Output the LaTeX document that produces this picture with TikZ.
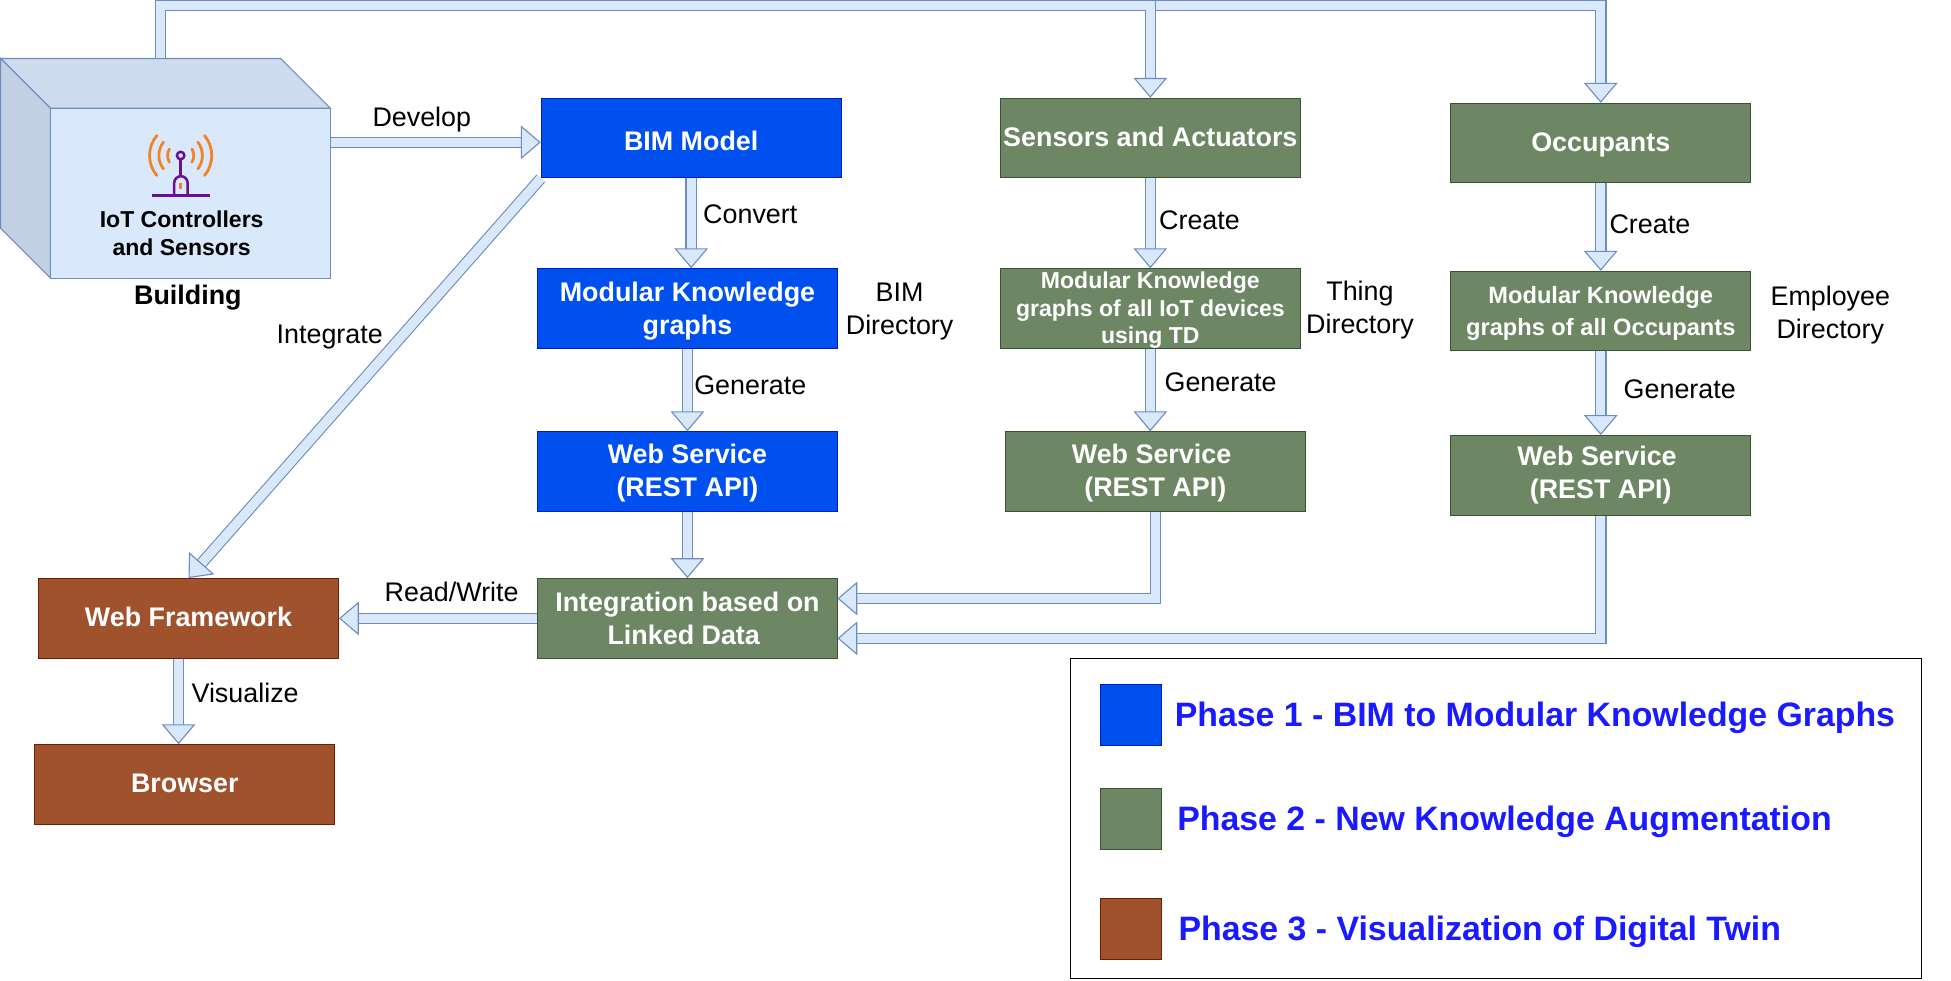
\documentclass[tikz,border=0pt]{standalone}
\usepackage{fontspec}
\setmainfont{Liberation Sans}
\usetikzlibrary{arrows.meta}

\definecolor{phaseblue}{HTML}{0050EF}
\definecolor{phasebluedark}{HTML}{001DBC}
\definecolor{phasegreen}{HTML}{6D8764}
\definecolor{phasegreendark}{HTML}{3A5431}
\definecolor{phasebrown}{HTML}{A0522D}
\definecolor{phasebrowndark}{HTML}{6D1F00}
\definecolor{lightfill}{HTML}{DAE8FC}
\definecolor{edgeblue}{HTML}{6C8EBF}
\definecolor{roofblue}{HTML}{CEDBEE}
\definecolor{sideblue}{HTML}{C3CFE2}
\definecolor{legendtext}{HTML}{1A1AFF}
\definecolor{antorange}{HTML}{F58220}
\definecolor{antpurple}{HTML}{6A0F8E}

% nudge the text of a box down or up
\newcommand{\textlow}[1]{\rule{0pt}{#1pt}}
\newcommand{\textrise}{\rule[-2pt]{0pt}{2pt}}

\tikzset{
	phasebox/.style={minimum width=241pt,minimum height=64pt,inner sep=0pt,align=center,text=white,line width=.8pt,font=\fontsize{21.6}{26.5}\selectfont\bfseries},
	bluebox/.style={phasebox,fill=phaseblue,draw=phasebluedark},
	greenbox/.style={phasebox,fill=phasegreen,draw=phasegreendark},
	brownbox/.style={phasebox,fill=phasebrown,draw=phasebrowndark},
	smalltext/.style 2 args={font=\fontsize{#1}{#2}\selectfont\bfseries},
	flowarrow/.style={double=lightfill,double distance=7.5pt,draw=edgeblue,line width=.9pt,-{Triangle[length=16pt,width=27pt,fill=lightfill,line width=.9pt]}},
	label/.style={align=center,inner sep=0pt,font=\fontsize{21.6}{26.5}\selectfont},
	legendlabel/.style={anchor=west,inner sep=0pt,text=legendtext,font=\fontsize{27.2}{32}\selectfont\bfseries},
	swatch/.style={minimum size=49pt,inner sep=0pt,line width=.8pt}
}

\begin{document}
\begin{tikzpicture}[x=1pt,y=-1pt]
	\useasboundingbox (0,0) rectangle (1568,788);

	% building
	\filldraw[fill=roofblue,draw=edgeblue,line width=.9pt] (0.5,47) -- (225.5,47) -- (265.5,87) -- (40.5,87) -- cycle;
	\filldraw[fill=sideblue,draw=edgeblue,line width=.9pt] (0.5,47) -- (40.5,87) -- (40.5,223.5) -- (0.5,183.5) -- cycle;
	\node[fill=lightfill,draw=edgeblue,line width=.9pt,minimum width=225pt,minimum height=136.5pt,inner sep=0pt] (front) at (153,155.25) {};
	\node[smalltext={18.5}{23},align=center,inner sep=0pt] (iot) at (146,187.5) {IoT Controllers\\and Sensors};
	\node[inner sep=0pt,font=\fontsize{21.6}{26}\selectfont\bfseries] (building) at (151,239.5) {Building};
	\coordinate (roof) at (129,47);

	% antenna icon
	\foreach \r/\a in {10.5/30,17.5/38,25/40} {
		\draw[antorange,line width=2.2pt,line cap=round] (145.2,125) ++(180-\a:\r) arc[start angle=180-\a,end angle=180+\a,radius=\r];
		\draw[antorange,line width=2.2pt,line cap=round] (145.2,125) ++(-\a:\r) arc[start angle=-\a,end angle=\a,radius=\r];
	}
	\draw[antpurple,line width=2pt] (145.2,125) circle (3pt);
	\draw[antpurple,line width=2pt] (145.2,128) -- (145.2,142);
	\draw[antpurple,line width=2pt] (140,157) -- (140,147) arc[start angle=180,end angle=360,radius=5.4] -- (150.8,157);
	\draw[antpurple,line width=2.4pt] (122,157.5) -- (169,157.5);
	\draw[antorange,line width=2pt] (145,147) -- (145,152);

	% boxes
	\node[bluebox] (bim) at (555.5,111) {\textlow{20}BIM Model};
	\node[bluebox] (modblue) at (552.5,248) {\textlow{20}Modular Knowledge\\graphs};
	\node[bluebox] (webblue) at (552.5,379) {\textlow{18}Web Service\\(REST API)};
	\node[greenbox] (integ) at (552.5,497) {Integration based on\\Linked Data\hspace*{6pt}};
	\node[brownbox] (framework) at (151.5,497) {Web Framework\textrise};
	\node[brownbox] (browser) at (148.5,630.5) {Browser\textrise};
	\node[greenbox] (sensors) at (924.5,111) {Sensors and Actuators\textrise};
	\node[greenbox,smalltext={18.5}{22}] (modgreen) at (924.5,248) {\textlow{16}Modular Knowledge\\graphs of all IoT devices\\using TD};
	\node[greenbox] (webgreen) at (928.5,379) {\textlow{18}Web Service\hspace*{6pt}\\(REST API)};
	\node[greenbox] (occupants) at (1286.5,115) {\textlow{18}Occupants};
	\node[greenbox,smalltext={19}{26}] (modocc) at (1286.5,250) {\textlow{18}Modular Knowledge\\graphs of all Occupants};
	\node[greenbox] (webocc) at (1286.5,382) {Web Service\hspace*{6pt}\\(REST API)};
	\coordinate (intega) at (673,481);
	\coordinate (integb) at (673,513);
	\coordinate (topbar) at (0,4.3);

	% connectors
	\draw[flowarrow] (roof) |- (topbar -| occupants.north) -- (occupants.north);
	\draw[flowarrow] (roof) |- (topbar -| sensors.north) -- (sensors.north);
	\draw[flowarrow] (front.east |- 0,114.4) -- (bim.west |- 0,114.4);
	\draw[flowarrow] (bim.south west) -- (framework.north);
	\draw[flowarrow] (bim.south) -- (bim.south |- modblue.north);
	\draw[flowarrow] (modblue.south) -- (webblue.north);
	\draw[flowarrow] (webblue.south) -- (integ.north);
	\draw[flowarrow] (integ.west) -- (framework.east);
	\draw[flowarrow] (framework.south -| browser.north) ++(-5,0) coordinate (vis) -- (vis |- browser.north);
	\draw[flowarrow] (sensors.south) -- (modgreen.north);
	\draw[flowarrow] (modgreen.south) -- (modgreen.south |- webgreen.north);
	\draw[flowarrow] (webgreen.south) |- (intega);
	\draw[flowarrow] (occupants.south) -- (modocc.north);
	\draw[flowarrow] (modocc.south) -- (webocc.north);
	\draw[flowarrow] (webocc.south) |- (integb);

	% labels
	\node[label] (develop) at (339,96) {Develop};
	\node[label] (convert) at (603,172) {Convert};
	\node[label] (integrate) at (265,271) {Integrate};
	\node[label] (bimdir) at (723,250) {BIM\\Directory};
	\node[label] (genblue) at (603,310) {Generate};
	\node[label] (creategreen) at (964,177) {Create};
	\node[label] (thingdir) at (1093,249.5) {Thing\\Directory};
	\node[label] (gengreen) at (981,307) {Generate};
	\node[label] (createocc) at (1326,180) {Create};
	\node[label] (empdir) at (1471,253) {Employee\\Directory};
	\node[label] (genocc) at (1350,313) {Generate};
	\node[label] (readwrite) at (363,476) {Read/Write};
	\node[label] (visualize) at (197,557) {Visualize};

	% legend
	\node[draw=black,line width=.8pt,minimum width=684pt,minimum height=257pt,inner sep=0pt] (legend) at (1202,658) {};
	\node[swatch,fill=phaseblue,draw=phasebluedark] (swatchone) at (908.8,574.5) {};
	\node[swatch,fill=phasegreen,draw=phasegreendark] (swatchtwo) at (908.8,658.5) {};
	\node[swatch,fill=phasebrown,draw=phasebrowndark] (swatchthree) at (908.8,746.5) {};
	\node[legendlabel] (phaseone) at (944,576.5) {Phase 1 - BIM to Modular Knowledge Graphs};
	\node[legendlabel] (phasetwo) at (946,660.5) {Phase 2 - New Knowledge Augmentation};
	\node[legendlabel] (phasethree) at (947,748.5) {Phase 3 - Visualization of Digital Twin};
\end{tikzpicture}
\end{document}
